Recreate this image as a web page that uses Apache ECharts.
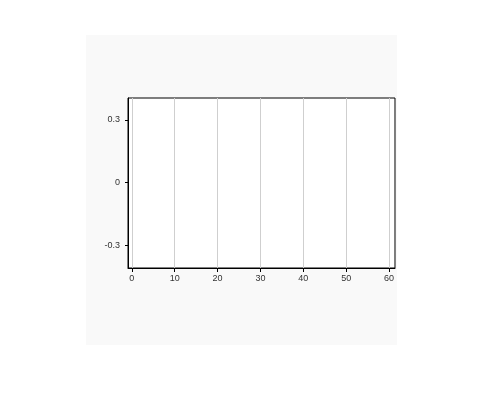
<!DOCTYPE html>
<html><head><meta charset="utf-8">
<script src="https://cdn.jsdelivr.net/npm/echarts@6/dist/echarts.min.js"></script>
<style>
html,body{margin:0;padding:0;background:#fff;width:483px;height:419px;overflow:hidden}
#panel{position:absolute;left:86px;top:35px;width:311px;height:310px;background:#f9f9f9}
#c{width:311px;height:310px}
</style></head><body>
<div id="panel"><div id="c"></div></div>
<script>
const xTicks = [0, 10, 20, 30, 40, 50, 60];
const yTicks = [-0.3, 0, 0.3];
const xRange = [-0.9, 61.4];
const yRange = [-0.41, 0.405];
const seriesData = [];

const chart = echarts.init(document.getElementById('c'), null, {renderer: 'canvas'});
chart.setOption({
  animation: false,
  backgroundColor: 'transparent',
  grid: {left: 42, right: 2, top: 63, bottom: 77, show: true, backgroundColor: '#fff', borderColor: '#000', borderWidth: 1},
  xAxis: {
    type: 'value', min: xRange[0], max: xRange[1],
    axisLine: {show: true, onZero: false, lineStyle: {color: '#000', width: 1}},
    axisTick: {show: true, customValues: xTicks, length: 4, lineStyle: {color: '#000'}},
    axisLabel: {customValues: xTicks, color: '#333', fontSize: 9, fontFamily: 'Liberation Sans, Arial', margin: 6},
    splitLine: {show: false}
  },
  yAxis: {
    type: 'value', min: yRange[0], max: yRange[1],
    axisLine: {show: true, onZero: false, lineStyle: {color: '#000', width: 1}},
    axisTick: {show: true, customValues: yTicks, length: 3, lineStyle: {color: '#000'}},
    axisLabel: {customValues: yTicks, color: '#333', fontSize: 9, fontFamily: 'Liberation Sans, Arial', margin: 8,
      formatter: v => String(Math.round(v * 10) / 10)},
    splitLine: {show: false}
  },
  series: [{type: 'line', data: seriesData, showSymbol: false,
    markLine: {silent: true, symbol: 'none', label: {show: false}, lineStyle: {color: '#cfcfcf', type: 'solid', width: 1},
      data: xTicks.map(v => ({xAxis: v}))}}]
});
</script></body></html>
